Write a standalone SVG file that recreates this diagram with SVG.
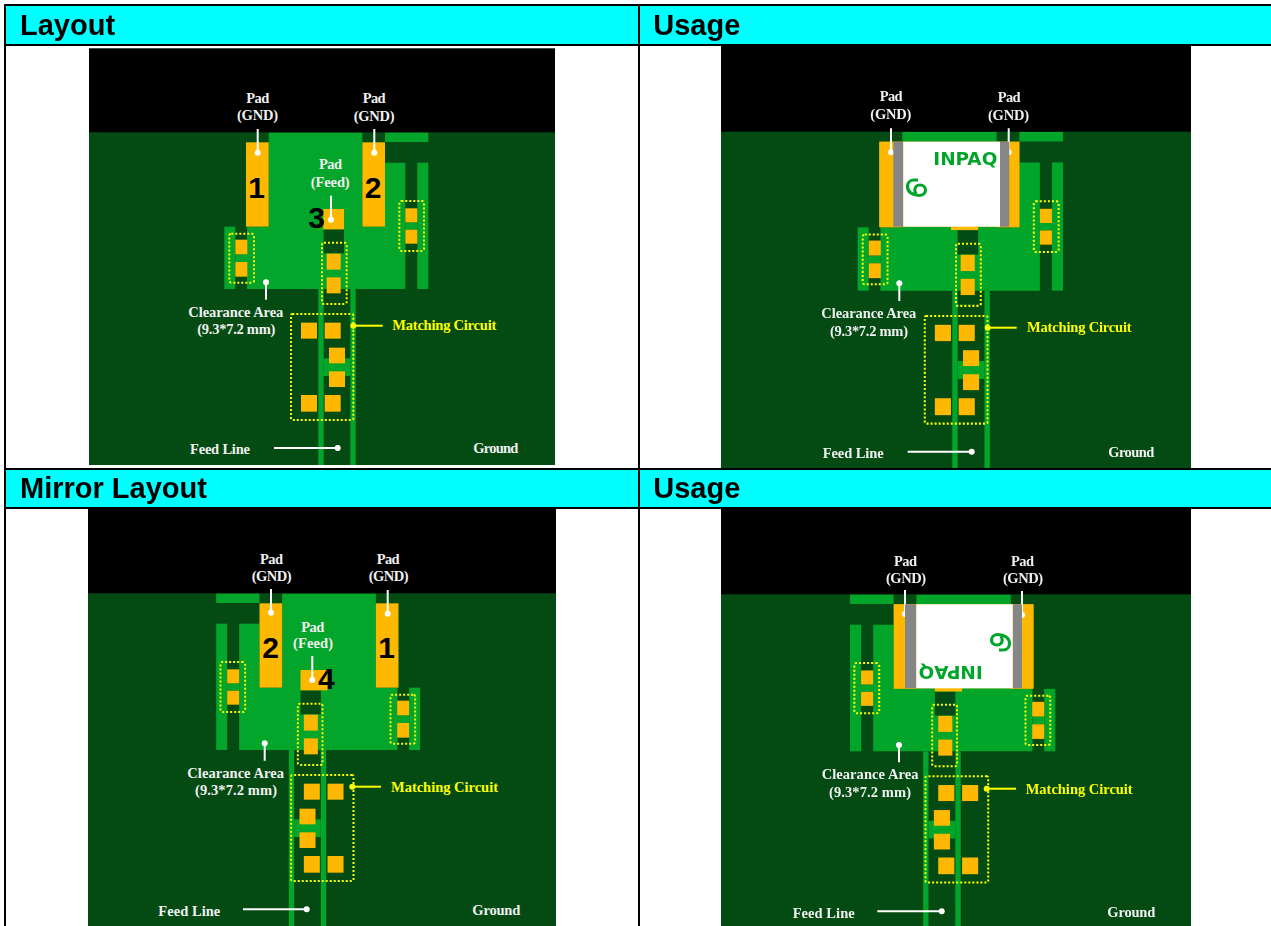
<svg xmlns="http://www.w3.org/2000/svg" xmlns:xlink="http://www.w3.org/1999/xlink" width="1271" height="926" viewBox="0 0 1271 926">
<style>
.bg{fill:#ffffff}
.hd{fill:#00ffff}
.ln{fill:#000000}
.blk{fill:#000000}
.gnd{fill:#044b13}
.cu{fill:#04a52b}
.pad{fill:#ffb800}
.dot{fill:none;stroke:#ffff00;stroke-width:6;stroke-dasharray:6 6}
.head{font-family:"Liberation Sans",Arial,sans-serif;font-weight:700;font-size:29px;fill:#000}
.num{font-family:"Liberation Sans",Arial,sans-serif;font-weight:700;font-size:30px;fill:#000;text-anchor:middle}
.lab{font-family:"Liberation Serif","Times New Roman",serif;font-weight:700;font-size:14.5px;fill:#f0f0f0}
.ylab{fill:#ffff00}
.lead{stroke:#ffffff;stroke-width:2;fill:none}
.leady{stroke:#ffff00;stroke-width:2;fill:none}
.dw{fill:#ffffff}
.dy{fill:#ffff00}
.grey{fill:#868686}
.chip{fill:#ffffff}
.inpaq{font-family:"DejaVu Sans",sans-serif;font-weight:700;font-size:18.5px;fill:#06a52c}
.logo{fill:none;stroke:#06a52c;stroke-width:3.2}
.soft{filter:url(#soft)}
</style>
<defs>
<filter id="soft" x="-2%" y="-2%" width="104%" height="104%"><feGaussianBlur stdDeviation="0.4"/></filter>
<clipPath id="clip1"><rect x="89" y="48.5" width="466" height="416.5"/></clipPath>
<clipPath id="clip2"><rect x="721" y="46" width="470" height="422"/></clipPath>
<g id="board">
<path class="cu" d="M551 263H832V545H900V353H961V732H486V545H551Z"/>
<rect class="cu" x="900" y="263" width="130" height="28"/>
<rect class="cu" x="997" y="353" width="33" height="379"/>
<rect class="cu" x="418" y="545" width="33" height="187"/>
<rect class="cu" x="451" y="628" width="35" height="23"/>
<rect class="cu" x="961" y="532" width="36" height="22"/>
<rect class="gnd" x="716" y="553" width="61" height="72"/>
<rect class="cu" x="700" y="732" width="16" height="541"/>
<rect class="cu" x="796" y="732" width="16" height="541"/>
<rect class="cu" x="716" y="940" width="80" height="53"/>
<rect class="pad" x="483" y="292" width="68" height="253"/>
<rect class="pad" x="832" y="292" width="68" height="253"/>
<rect class="pad" x="696" y="492" width="81" height="61"/>
<rect class="pad" x="725" y="626" width="42" height="48"/>
<rect class="pad" x="725" y="697" width="42" height="48"/>
<rect class="pad" x="451" y="584" width="36" height="44"/>
<rect class="pad" x="451" y="651" width="36" height="44"/>
<rect class="pad" x="961" y="490" width="36" height="42"/>
<rect class="pad" x="961" y="554" width="36" height="42"/>
<rect class="pad" x="648" y="833" width="48" height="48"/>
<rect class="pad" x="719" y="833" width="48" height="48"/>
<rect class="pad" x="732" y="908" width="48" height="47"/>
<rect class="pad" x="732" y="979" width="48" height="47"/>
<rect class="pad" x="648" y="1050" width="48" height="50"/>
<rect class="pad" x="719" y="1050" width="48" height="50"/>
<rect class="dot" x="711" y="593" width="74" height="184" rx="6"/>
<rect class="dot" x="618" y="807" width="187" height="318" rx="4"/>
<rect class="dot" x="433" y="566" width="74" height="147" rx="6"/>
<rect class="dot" x="943" y="468" width="74" height="150" rx="6"/>
</g>
<path id="logo" class="logo" d="M918 180H913.5C909.5 180 907.5 183.5 907.5 186.5C907.5 192 912.5 195.5 919 195.5C923 195.5 925.5 193 925.5 190C925.5 187 923 185 920 185C917 185 914.8 187 914.8 190C914.8 191.5 915.3 192.8 916.3 194"/>
</defs>
<rect class="bg" width="1271" height="926"/>
<g id="headers">
<rect class="hd" x="6" y="6" width="1265" height="38"/>
<rect class="hd" x="6" y="470" width="1265" height="37"/>
</g>

<g id="panel-layout">
<rect class="gnd" x="89" y="48.5" width="466" height="416.5"/>
<rect class="blk" x="89" y="48.5" width="466" height="83.8"/>
<g clip-path="url(#clip1)"><use xlink:href="#board" href="#board" transform="matrix(.33333 0 0 .33333 85 45)"/></g>
<rect class="cu" x="317" y="209" width="6.3" height="20.3"/>
<g class="leaders">
<path class="lead" d="M257.7 129V152.7M374.3 129V152.7M331 195.7V219.7M266 282.3V299.7M274 448H337.7"/>
<circle class="dw" cx="257.7" cy="152.7" r="3"/><circle class="dw" cx="374.3" cy="152.7" r="3"/><circle class="dw" cx="331" cy="219.7" r="3"/><circle class="dw" cx="266" cy="282.3" r="3"/><circle class="dw" cx="337.7" cy="448" r="3"/>
<path class="leady" d="M353.3 325.7H382.7"/><circle class="dy" cx="353.3" cy="325.7" r="3"/>
</g>
<text class="lab" x="246.3" y="102.7" textLength="23">Pad</text>
<text class="lab" x="237" y="120.3" textLength="41">(GND)</text>
<text class="lab" x="362.7" y="103.3" textLength="23">Pad</text>
<text class="lab" x="353.7" y="121" textLength="41">(GND)</text>
<text class="lab" x="319" y="169.3" textLength="23">Pad</text>
<text class="lab" x="310.7" y="187" textLength="39">(Feed)</text>
<text class="lab" x="188.3" y="316.7" textLength="95">Clearance Area</text>
<text class="lab" x="197.3" y="334" textLength="78">(9.3*7.2 mm)</text>
<text class="lab ylab" x="392.3" y="330" textLength="104">Matching Circuit</text>
<text class="lab" x="190" y="454" textLength="60">Feed Line</text>
<text class="lab" x="473.3" y="453.3" textLength="45">Ground</text>
<text class="num" x="256.7" y="197.7">1</text>
<text class="num" x="373" y="197.7">2</text>
<text class="num" x="316.7" y="228.3">3</text>
</g>

<g id="panel-usage-1">
<rect class="gnd" x="721" y="46" width="470" height="422"/>
<rect class="blk" x="721" y="46" width="470" height="85.7"/>
<g class="soft">
<g clip-path="url(#clip2)"><use xlink:href="#board" href="#board" transform="matrix(.3355 0 0 .3383 717.43 43.03)"/></g>
<rect class="pad" x="879.3" y="141.7" width="140" height="85"/>
<g class="leaders">
<path class="lead" d="M891 128.3V152.3M1008.7 128.3V152.3M899.3 283.3V301M907.7 451.7H971.7"/>
<circle class="dw" cx="891" cy="152.3" r="3"/><circle class="dw" cx="1008.7" cy="152.3" r="3"/><circle class="dw" cx="899.3" cy="283.3" r="3"/><circle class="dw" cx="971.7" cy="451.7" r="3"/>
<path class="leady" d="M987.7 327.7H1016.7"/><circle class="dy" cx="987.7" cy="327.7" r="3"/>
</g>
<g id="chip-1">
<rect class="grey" x="893.3" y="141.7" width="10" height="85"/>
<rect class="grey" x="1000" y="141.7" width="9.3" height="85"/>
<rect class="chip" x="903.3" y="141.7" width="96.7" height="85"/>
<text class="inpaq" x="933.3" y="165" textLength="64" lengthAdjust="spacingAndGlyphs">INPAQ</text>
<use xlink:href="#logo" href="#logo"/>
</g>
<text class="lab" x="879.7" y="101" textLength="23">Pad</text>
<text class="lab" x="870.3" y="119" textLength="41">(GND)</text>
<text class="lab" x="997.7" y="101.7" textLength="23">Pad</text>
<text class="lab" x="988" y="119.7" textLength="41">(GND)</text>
<text class="lab" x="821.3" y="318.3" textLength="95">Clearance Area</text>
<text class="lab" x="830" y="336" textLength="78">(9.3*7.2 mm)</text>
<text class="lab ylab" x="1027" y="332" textLength="104.7">Matching Circuit</text>
<text class="lab" x="822.7" y="457.7" textLength="61">Feed Line</text>
<text class="lab" x="1108.3" y="457" textLength="46">Ground</text>
</g>
</g>

<g id="panel-mirror">
<rect class="gnd" x="88" y="509" width="468" height="417"/>
<rect class="blk" x="88" y="509" width="468" height="84.3"/>
<use xlink:href="#board" href="#board" transform="matrix(-.33333 0 0 .33333 559.5 506)"/>
<g class="leaders">
<path class="lead" d="M271 589V612.7M387.7 590V613.7M312.3 656V680M264.7 743.3V760.7M243 909.3H306.7"/>
<circle class="dw" cx="271" cy="612.7" r="3"/><circle class="dw" cx="387.7" cy="613.7" r="3"/><circle class="dw" cx="312.3" cy="680" r="3"/><circle class="dw" cx="264.7" cy="743.3" r="3"/><circle class="dw" cx="306.7" cy="909.3" r="3"/>
<path class="leady" d="M352.3 786.7H381"/><circle class="dy" cx="352.3" cy="786.7" r="3"/>
</g>
<text class="lab" x="260" y="564.3" textLength="23">Pad</text>
<text class="lab" x="251.7" y="581" textLength="40">(GND)</text>
<text class="lab" x="376.7" y="564.3" textLength="23">Pad</text>
<text class="lab" x="368.7" y="581" textLength="40">(GND)</text>
<text class="lab" x="301.3" y="631.7" textLength="23">Pad</text>
<text class="lab" x="293" y="648.3" textLength="40">(Feed)</text>
<text class="lab" x="187.3" y="777.7" textLength="96.7">Clearance Area</text>
<text class="lab" x="195" y="795" textLength="82">(9.3*7.2 mm)</text>
<text class="lab ylab" x="391" y="792.3" textLength="107">Matching Circuit</text>
<text class="lab" x="158.3" y="916" textLength="62">Feed Line</text>
<text class="lab" x="472.3" y="915.3" textLength="48">Ground</text>
<text class="num" x="270.7" y="658">2</text>
<text class="num" x="386.7" y="658">1</text>
<text class="num" x="326.3" y="689">4</text>
</g>

<g id="panel-usage-2">
<rect class="gnd" x="721" y="509" width="470" height="417"/>
<rect class="blk" x="721" y="509" width="470" height="85.3"/>
<g class="soft">
<use xlink:href="#board" href="#board" transform="matrix(-.3355 0 0 .334 1195.57 506.8)"/>
<rect class="pad" x="894" y="604.3" width="139.3" height="84"/>
<g class="leaders">
<path class="lead" d="M905 590V614M1022 591V615M899 745V762.3M877.3 911.3H941.7"/>
<circle class="dw" cx="905" cy="614" r="3"/><circle class="dw" cx="1022" cy="615" r="3"/><circle class="dw" cx="899" cy="745" r="3"/><circle class="dw" cx="941.7" cy="911.3" r="3"/>
<path class="leady" d="M986.7 788.7H1016"/><circle class="dy" cx="986.7" cy="788.7" r="3"/>
</g>
<g id="chip-2">
<rect class="grey" x="905" y="604.3" width="11.3" height="84"/>
<rect class="grey" x="1012.7" y="604.3" width="9.3" height="84"/>
<rect class="chip" x="916.3" y="604.3" width="96.4" height="84"/>
<text class="inpaq" transform="translate(982.7 665.7) rotate(180)" textLength="64" lengthAdjust="spacingAndGlyphs">INPAQ</text>
<use xlink:href="#logo" href="#logo" transform="translate(1917 830) rotate(180)"/>
</g>
<text class="lab" x="894" y="565.7" textLength="23">Pad</text>
<text class="lab" x="886" y="583.3" textLength="40">(GND)</text>
<text class="lab" x="1011" y="565.7" textLength="23">Pad</text>
<text class="lab" x="1003" y="583.3" textLength="40">(GND)</text>
<text class="lab" x="821.7" y="779.3" textLength="96.7">Clearance Area</text>
<text class="lab" x="829" y="796.7" textLength="82">(9.3*7.2 mm)</text>
<text class="lab ylab" x="1025.7" y="794" textLength="107">Matching Circuit</text>
<text class="lab" x="792.7" y="918.3" textLength="62">Feed Line</text>
<text class="lab" x="1107.3" y="917.3" textLength="48">Ground</text>
</g>
</g>

<g id="table-lines">
<rect class="ln" x="4" y="4" width="1267" height="2"/>
<rect class="ln" x="4" y="44" width="1267" height="2"/>
<rect class="ln" x="4" y="468" width="1267" height="2"/>
<rect class="ln" x="4" y="507" width="1267" height="2"/>
<rect class="ln" x="4" y="4" width="2" height="922"/>
<rect class="ln" x="638" y="4" width="2" height="922"/>
</g>
<g id="header-text">
<text class="head" x="20" y="35">Layout</text>
<text class="head" x="653.3" y="35">Usage</text>
<text class="head" x="20" y="497.7">Mirror Layout</text>
<text class="head" x="653.3" y="497.7">Usage</text>
</g>
</svg>
